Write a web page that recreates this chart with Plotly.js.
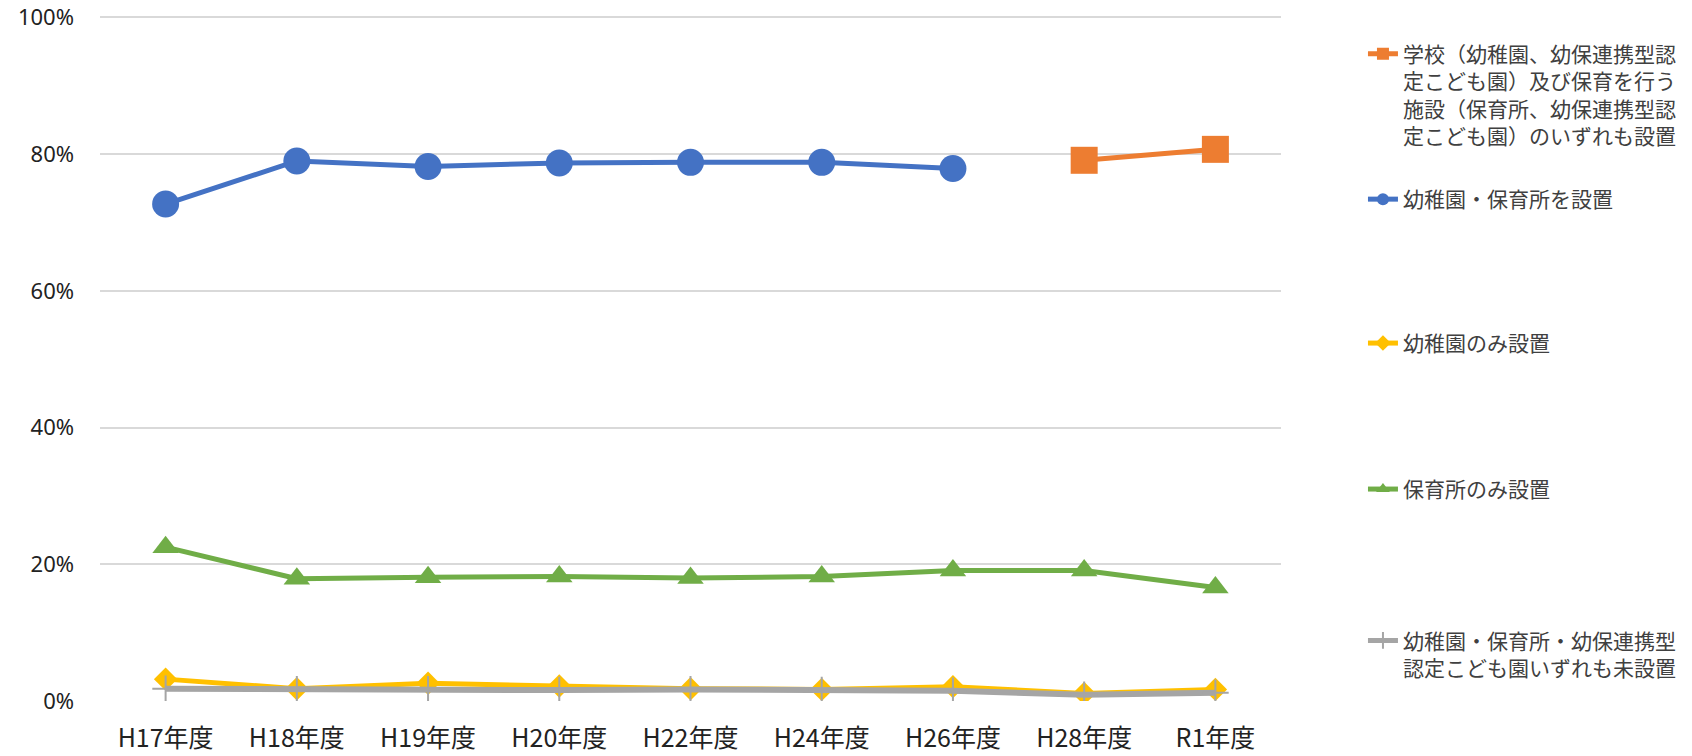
<!DOCTYPE html>
<html>
<head>
<meta charset="utf-8">
<script src="https://cdn.plot.ly/plotly-3.0.1.min.js"></script>
<style>html,body{margin:0;padding:0;background:#fff;}#chart{width:1692px;height:756px;}</style>
</head>
<body>
<div id="chart"></div>
<script>
const categories = ["H17年度", "H18年度", "H19年度", "H20年度", "H22年度", "H24年度", "H26年度", "H28年度", "R1年度"];

const nameSchool = "学校（幼稚園、幼保連携型認<br>定こども園）及び保育を行う<br>施設（保育所、幼保連携型認<br>定こども園）のいずれも設置";
const nameBoth = "幼稚園・保育所を設置";
const nameKinder = "幼稚園のみ設置";
const nameNursery = "保育所のみ設置";
const nameNone = "幼稚園・保育所・幼保連携型<br>認定こども園いずれも未設置";

const valuesSchool  = [null, null, null, null, null, null, null, 79.1, 80.7];
const valuesBoth    = [72.7, 79.0, 78.2, 78.7, 78.8, 78.8, 77.9, null, null];
const valuesKinder  = [3.2, 1.8, 2.6, 2.2, 1.8, 1.7, 2.1, 1.1, 1.7];
const valuesNursery = [22.5, 17.9, 18.1, 18.2, 18.0, 18.2, 19.1, 19.1, 16.6];
const valuesNone    = [1.8, 1.7, 1.7, 1.6, 1.7, 1.6, 1.5, 0.9, 1.2];

const yTickVals = [0, 20, 40, 60, 80, 100];
const yTickText = ['0%', '20%', '40%', '60%', '80%', '100%'];

const FONT = '"Noto Sans CJK JP", "Noto Sans", sans-serif';

const traces = [
  {x: categories, y: valuesSchool, name: nameSchool, legend: 'legend', mode: 'lines+markers',
   line: {color: '#ED7D31', width: 5}, marker: {symbol: 'square', size: 27, color: '#ED7D31'}},
  {x: categories, y: valuesBoth, name: nameBoth, legend: 'legend2', mode: 'lines+markers',
   line: {color: '#4472C4', width: 5}, marker: {symbol: 'circle', size: 27, color: '#4472C4'}},
  {x: categories, y: valuesKinder, name: nameKinder, legend: 'legend3', mode: 'lines+markers',
   line: {color: '#FFC000', width: 5}, marker: {symbol: 'diamond', size: 18, color: '#FFC000'}},
  {x: categories, y: valuesNursery, name: nameNursery, legend: 'legend4', mode: 'lines+markers',
   line: {color: '#70AD47', width: 5}, marker: {symbol: 'triangle-up', size: 23, color: '#70AD47'}},
  {x: categories, y: valuesNone, name: nameNone, legend: 'legend5', mode: 'lines+markers',
   line: {color: '#A5A5A5', width: 6}, marker: {symbol: 'cross-thin', size: 19, color: '#A5A5A5', line: {color: '#A5A5A5', width: 2}}}
];

const legendBase = {
  x: 1.0685, xanchor: 'left', yanchor: 'middle',
  font: {family: FONT, size: 21, color: '#404040'},
  bgcolor: 'rgba(0,0,0,0)', borderwidth: 0, valign: 'top', itemsizing: 'constant'
};

const layout = {
  width: 1692, height: 756,
  margin: {l: 100, r: 410, t: 14, b: 55},
  paper_bgcolor: '#ffffff', plot_bgcolor: '#ffffff',
  font: {family: FONT, color: '#222222'},
  showlegend: true,
  xaxis: {
    type: 'category', range: [-0.5, 8.5], showgrid: false, zeroline: false, showline: false, ticks: '',
    tickfont: {family: FONT, size: 25, color: '#222222'}, ticklabelstandoff: 20, fixedrange: true
  },
  yaxis: {
    range: [0, 100.5], tickvals: yTickVals, ticktext: yTickText,
    showgrid: true, gridcolor: '#D9D9D9', gridwidth: 2,
    zeroline: false, showline: false, ticks: '', ticklabeloverflow: 'allow',
    tickfont: {family: '"Noto Sans", sans-serif', size: 22, color: '#222222'}, ticklabelstandoff: 25, fixedrange: true
  },
  legend:  Object.assign({}, legendBase, {y: 0.882}),
  legend2: Object.assign({}, legendBase, {y: 0.730}),
  legend3: Object.assign({}, legendBase, {y: 0.5205}),
  legend4: Object.assign({}, legendBase, {y: 0.308}),
  legend5: Object.assign({}, legendBase, {y: 0.068})
};

Plotly.newPlot('chart', traces, layout, {displayModeBar: false, staticPlot: true});
</script>
</body>
</html>
